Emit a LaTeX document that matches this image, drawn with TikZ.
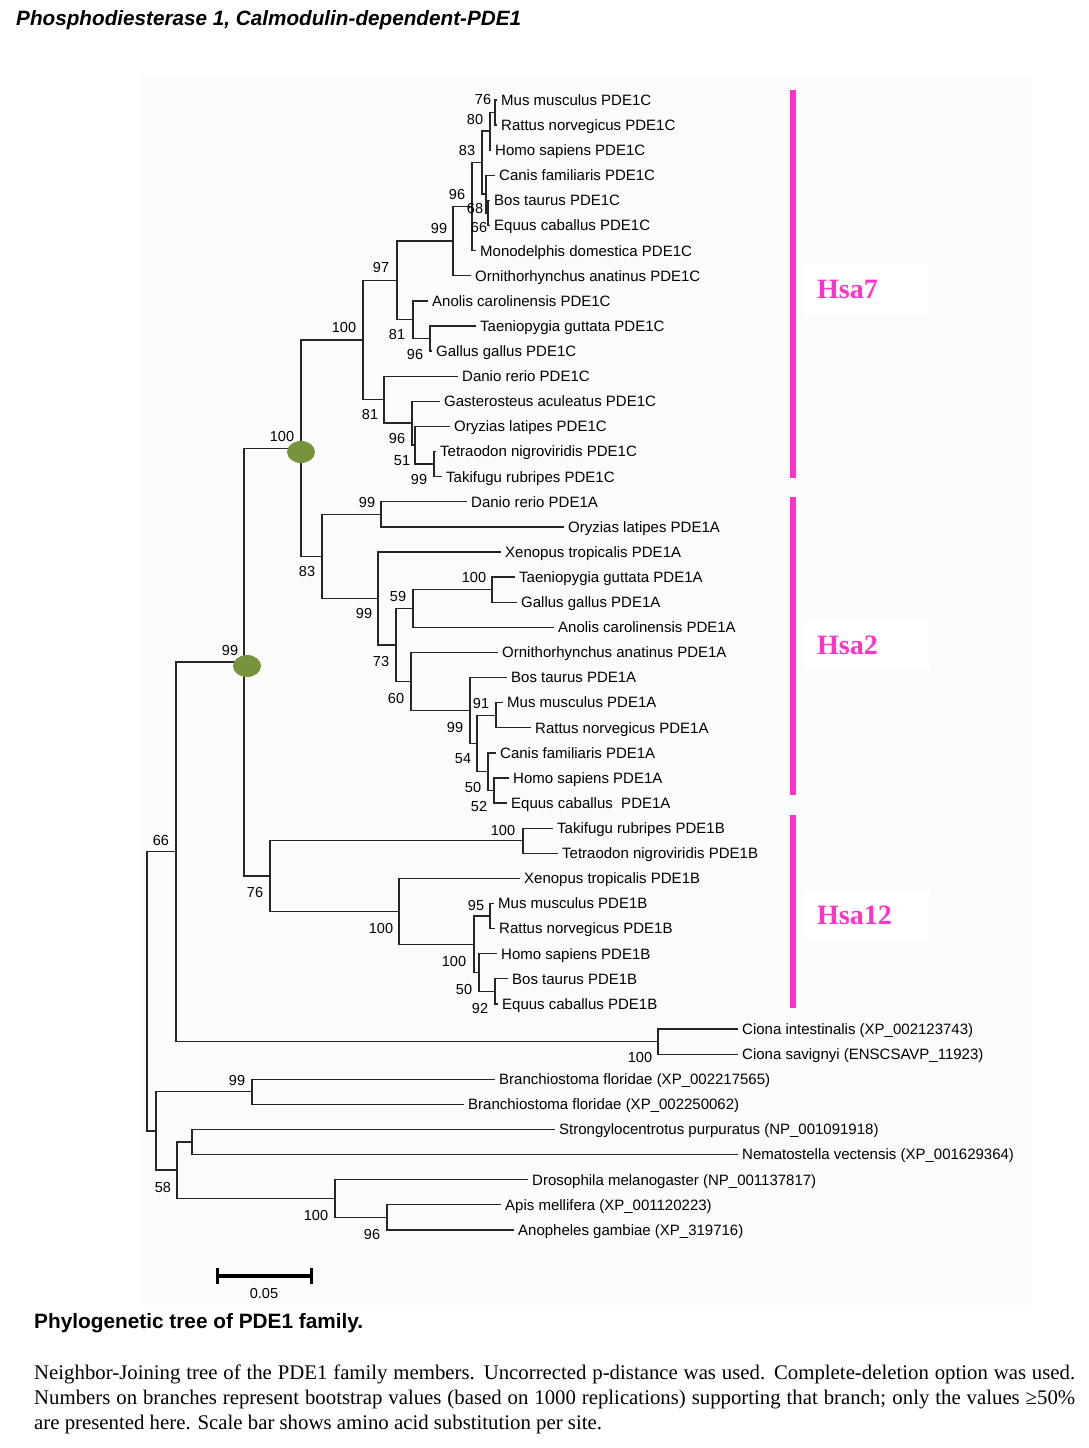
\documentclass[tikz,border=0pt]{standalone}
\usepackage{fontspec}
\setmainfont{Liberation Serif}
\setsansfont{Liberation Sans}
\usepackage{xcolor}
\usetikzlibrary{positioning,calc,shapes.geometric}
\definecolor{hsapink}{RGB}{255,51,204}
\definecolor{nodegreen}{RGB}{119,147,60}
\definecolor{panelgray}{RGB}{251,251,251}

\begin{document}
\begin{tikzpicture}[x=1pt,y=-1pt,
	branch/.style={line width=1.3pt,black!85},
	taxon/.style={anchor=west,inner xsep=4pt,inner ysep=0pt,text height=10.7pt,text depth=0pt,font=\sffamily\fontsize{15}{17}\selectfont},
	boot/.style={inner sep=0pt,font=\sffamily\fontsize{14.5}{16}\selectfont},
	clade/.style={draw=hsapink,line width=6pt},
	cladename/.style={anchor=west,fill=white,text=hsapink,inner xsep=12pt,text width=100pt,minimum height=50pt,align=left,font=\bfseries\fontsize{28}{30}\selectfont},
	dup/.style={ellipse,fill=nodegreen,minimum width=28pt,minimum height=22pt,inner sep=0pt}]
	\useasboundingbox (0,0) rectangle (1088,1448);
	\fill[white] (0,0) rectangle (1088,1448);
	\fill[panelgray] (140,77) rectangle (1032,1305);
	
	\node[anchor=west,inner sep=0pt,font=\sffamily\bfseries\itshape\fontsize{20.7}{24}\selectfont] (title) at (16,20) {Phosphodiesterase 1, Calmodulin-dependent-PDE1};
	
	% PDE1C
	\node[taxon] (mus1c) at (497,100) {Mus musculus PDE1C};
	\node[taxon] (rat1c) at (497,125.1) {Rattus norvegicus PDE1C};
	\node[taxon] (hom1c) at (491,150.2) {Homo sapiens PDE1C};
	\node[taxon] (can1c) at (495,175.3) {Canis familiaris PDE1C};
	\node[taxon] (bos1c) at (490,200.4) {Bos taurus PDE1C};
	\node[taxon] (equ1c) at (490,225.6) {Equus caballus PDE1C};
	\node[taxon] (mon1c) at (476,250.7) {Monodelphis domestica PDE1C};
	\node[taxon] (orn1c) at (471,275.8) {Ornithorhynchus anatinus PDE1C};
	\node[taxon] (ano1c) at (428,300.9) {Anolis carolinensis PDE1C};
	\node[taxon] (tae1c) at (476,326.0) {Taeniopygia guttata PDE1C};
	\node[taxon] (gal1c) at (432,351.1) {Gallus gallus PDE1C};
	\node[taxon] (dan1c) at (458,376.2) {Danio rerio PDE1C};
	\node[taxon] (gas1c) at (440,401.3) {Gasterosteus aculeatus PDE1C};
	\node[taxon] (ory1c) at (450,426.4) {Oryzias latipes PDE1C};
	\node[taxon] (tet1c) at (436,451.5) {Tetraodon nigroviridis PDE1C};
	\node[taxon] (tak1c) at (442,476.7) {Takifugu rubripes PDE1C};
	
	% PDE1A
	\node[taxon] (dan1a) at (467,501.8) {Danio rerio PDE1A};
	\node[taxon] (ory1a) at (564,526.9) {Oryzias latipes PDE1A};
	\node[taxon] (xen1a) at (501,552.0) {Xenopus tropicalis PDE1A};
	\node[taxon] (tae1a) at (515,577.1) {Taeniopygia guttata PDE1A};
	\node[taxon] (gal1a) at (517,602.2) {Gallus gallus PDE1A};
	\node[taxon] (ano1a) at (554,627.3) {Anolis carolinensis PDE1A};
	\node[taxon] (orn1a) at (498,652.4) {Ornithorhynchus anatinus PDE1A};
	\node[taxon] (bos1a) at (507,677.5) {Bos taurus PDE1A};
	\node[taxon] (mus1a) at (503,702.6) {Mus musculus PDE1A};
	\node[taxon] (rat1a) at (531,727.7) {Rattus norvegicus PDE1A};
	\node[taxon] (can1a) at (496,752.9) {Canis familiaris PDE1A};
	\node[taxon] (hom1a) at (509,778.0) {Homo sapiens PDE1A};
	\node[taxon] (equ1a) at (507,803.1) {Equus caballus\ \ PDE1A};
	
	% PDE1B
	\node[taxon] (tak1b) at (553,828.2) {Takifugu rubripes PDE1B};
	\node[taxon] (tet1b) at (558,853.3) {Tetraodon nigroviridis PDE1B};
	\node[taxon] (xen1b) at (520,878.4) {Xenopus tropicalis PDE1B};
	\node[taxon] (mus1b) at (494,903.5) {Mus musculus PDE1B};
	\node[taxon] (rat1b) at (495,928.6) {Rattus norvegicus PDE1B};
	\node[taxon] (hom1b) at (497,953.7) {Homo sapiens PDE1B};
	\node[taxon] (bos1b) at (508,978.8) {Bos taurus PDE1B};
	\node[taxon] (equ1b) at (498,1003.9) {Equus caballus PDE1B};
	
	% outgroups
	\node[taxon] (cioi) at (738,1029.0) {Ciona intestinalis (XP\_002123743)};
	\node[taxon] (cios) at (738,1054.2) {Ciona savignyi (ENSCSAVP\_11923)};
	\node[taxon] (bra1) at (495,1079.3) {Branchiostoma floridae (XP\_002217565)};
	\node[taxon] (bra2) at (464,1104.4) {Branchiostoma floridae (XP\_002250062)};
	\node[taxon] (str) at (555,1129.5) {Strongylocentrotus purpuratus (NP\_001091918)};
	\node[taxon] (nem) at (738,1154.6) {Nematostella vectensis (XP\_001629364)};
	\node[taxon] (dro) at (528,1179.7) {Drosophila melanogaster (NP\_001137817)};
	\node[taxon] (api) at (501,1204.8) {Apis mellifera (XP\_001120223)};
	\node[taxon] (anog) at (514,1229.9) {Anopheles gambiae (XP\_319716)};
	
	\coordinate (nA) at (495,112.5);
	\coordinate (nB) at (490,131);
	\coordinate (nD) at (488,213);
	\coordinate (nE) at (486,194);
	\coordinate (nC) at (482,162.5);
	\coordinate (nF) at (472,206.6);
	\coordinate (nG) at (453,241);
	\coordinate (nJb) at (430,338.5);
	\coordinate (nJ) at (413,319.7);
	\coordinate (nH) at (397,280.4);
	\coordinate (nOc) at (434,464);
	\coordinate (nOb) at (415,445);
	\coordinate (nOa) at (412,423);
	\coordinate (nO) at (384,399.6);
	\coordinate (nI) at (363,340);
	\coordinate (nQa) at (381,514.4);
	\coordinate (nRc) at (492,589.7);
	\coordinate (nRb) at (413,608.5);
	\coordinate (nSe) at (494,790.5);
	\coordinate (nSd) at (488,771.7);
	\coordinate (nSc) at (496,715.2);
	\coordinate (nSb) at (477,743.4);
	\coordinate (nSa) at (470,710.5);
	\coordinate (nS) at (411,681.4);
	\coordinate (nR) at (396,645);
	\coordinate (nQb) at (378,598.5);
	\coordinate (nP) at (322,556.5);
	\coordinate (nK) at (301,448.2);
	\coordinate (nT) at (523,840.7);
	\coordinate (nUe) at (495,991.4);
	\coordinate (nUd) at (479,972.5);
	\coordinate (nUc) at (490,916);
	\coordinate (nUb) at (474,944.3);
	\coordinate (nU) at (399,911.3);
	\coordinate (nV) at (270,876);
	\coordinate (nW) at (244,662);
	\coordinate (nCio) at (658,1041.6);
	\coordinate (nX) at (176,851.8);
	\coordinate (nBr) at (252,1091.8);
	\coordinate (nSN) at (192,1142);
	\coordinate (nAA) at (387,1217.4);
	\coordinate (nDr) at (335,1198.5);
	\coordinate (nN) at (177,1170);
	\coordinate (nM) at (156,1131);
	\coordinate (nRoot) at (147,991);
	
	\draw[branch] (nA) |- (mus1c.west) (nA) |- (rat1c.west)
		(nB) |- (nA) (nB) |- (hom1c.west)
		(nD) |- (bos1c.west) (nD) |- (equ1c.west)
		(nE) |- (can1c.west) (nE) |- (nD)
		(nC) |- (nB) (nC) |- (nE)
		(nF) |- (nC) (nF) |- (mon1c.west)
		(nG) |- (nF) (nG) |- (orn1c.west)
		(nJb) |- (tae1c.west) (nJb) |- (gal1c.west)
		(nJ) |- (ano1c.west) (nJ) |- (nJb)
		(nH) |- (nG) (nH) |- (nJ)
		(nOc) |- (tet1c.west) (nOc) |- (tak1c.west)
		(nOb) |- (ory1c.west) (nOb) |- (nOc)
		(nOa) |- (gas1c.west) (nOa) |- (nOb)
		(nO) |- (dan1c.west) (nO) |- (nOa)
		(nI) |- (nH) (nI) |- (nO);
	\draw[branch] (nQa) |- (dan1a.west) (nQa) |- (ory1a.west)
		(nRc) |- (tae1a.west) (nRc) |- (gal1a.west)
		(nRb) |- (nRc) (nRb) |- (ano1a.west)
		(nSe) |- (hom1a.west) (nSe) |- (equ1a.west)
		(nSd) |- (can1a.west) (nSd) |- (nSe)
		(nSc) |- (mus1a.west) (nSc) |- (rat1a.west)
		(nSb) |- (nSc) (nSb) |- (nSd)
		(nSa) |- (bos1a.west) (nSa) |- (nSb)
		(nS) |- (orn1a.west) (nS) |- (nSa)
		(nR) |- (nRb) (nR) |- (nS)
		(nQb) |- (xen1a.west) (nQb) |- (nR)
		(nP) |- (nQa) (nP) |- (nQb)
		(nK) |- (nI) (nK) |- (nP);
	\draw[branch] (nT) |- (tak1b.west) (nT) |- (tet1b.west)
		(nUe) |- (bos1b.west) (nUe) |- (equ1b.west)
		(nUd) |- (hom1b.west) (nUd) |- (nUe)
		(nUc) |- (mus1b.west) (nUc) |- (rat1b.west)
		(nUb) |- (nUc) (nUb) |- (nUd)
		(nU) |- (xen1b.west) (nU) |- (nUb)
		(nV) |- (nT) (nV) |- (nU)
		(nW) |- (nK) (nW) |- (nV);
	\draw[branch] (nCio) |- (cioi.west) (nCio) |- (cios.west)
		(nX) |- (nW) (nX) |- (nCio)
		(nBr) |- (bra1.west) (nBr) |- (bra2.west)
		(nSN) |- (str.west) (nSN) |- (nem.west)
		(nAA) |- (api.west) (nAA) |- (anog.west)
		(nDr) |- (dro.west) (nDr) |- (nAA)
		(nN) |- (nSN) (nN) |- (nDr)
		(nM) |- (nBr) (nM) |- (nN)
		(nRoot) |- (nX) (nRoot) |- (nM);
	
	\node[dup] (dupK) at (301,452) {};
	\node[dup] (dupW) at (247,666) {};
	
	\node[boot] (bA) at (483,100) {76};
	\node[boot] (bB) at (475,120) {80};
	\node[boot] (bC) at (467,151) {83};
	\node[boot] (bF) at (457,195) {96};
	\node[boot] (bE) at (475,209) {68};
	\node[boot] (bD) at (479,228) {66};
	\node[boot] (bG) at (439,229) {99};
	\node[boot] (bH) at (381,268) {97};
	\node[boot] (bI) at (344,328) {100};
	\node[boot] (bJ) at (397,335) {81};
	\node[boot] (bJb) at (415,355) {96};
	\node[boot] (bO) at (370,415) {81};
	\node[boot] (bOa) at (397,439) {96};
	\node[boot] (bOb) at (402,461) {51};
	\node[boot] (bOc) at (419,480) {99};
	\node[boot] (bK) at (282,437) {100};
	\node[boot] (bQa) at (367,503) {99};
	\node[boot] (bP) at (307,572) {83};
	\node[boot] (bRc) at (474,578) {100};
	\node[boot] (bRb) at (398,597) {59};
	\node[boot] (bQb) at (364,614) {99};
	\node[boot] (bR) at (381,661) {73};
	\node[boot] (bS) at (396,698) {60};
	\node[boot] (bSc) at (481,703) {91};
	\node[boot] (bSa) at (455,727) {99};
	\node[boot] (bSb) at (463,759) {54};
	\node[boot] (bSd) at (473,787) {50};
	\node[boot] (bSe) at (479,806) {52};
	\node[boot] (bW) at (230,651) {99};
	\node[boot] (bT) at (503,830) {100};
	\node[boot] (bX) at (161,840) {66};
	\node[boot] (bV) at (255,892) {76};
	\node[boot] (bUc) at (476,905) {95};
	\node[boot] (bU) at (381,928) {100};
	\node[boot] (bUb) at (454,961) {100};
	\node[boot] (bUd) at (464,989) {50};
	\node[boot] (bUe) at (480,1008) {92};
	\node[boot] (bCio) at (640,1057) {100};
	\node[boot] (bBr) at (237,1080) {99};
	\node[boot] (bN) at (163,1187) {58};
	\node[boot] (bDr) at (316,1215) {100};
	\node[boot] (bAA) at (372,1234) {96};
	
	\coordinate (c7a) at (793,90);
	\coordinate (c7b) at (793,478);
	\coordinate (c2a) at (793,497);
	\coordinate (c2b) at (793,795);
	\coordinate (c12a) at (793,815);
	\coordinate (c12b) at (793,1008);
	\draw[clade] (c7a) -- (c7b);
	\draw[clade] (c2a) -- (c2b);
	\draw[clade] (c12a) -- (c12b);
	\node[cladename] (hsa7) at (805,289) {Hsa7};
	\node[cladename] (hsa2) at (805,645) {Hsa2};
	\node[cladename] (hsa12) at (805,915) {Hsa12};
	
	\coordinate (sba) at (217,1276);
	\coordinate (sbb) at (311,1276);
	\draw[line width=4pt] (sba) -- (sbb);
	\draw[line width=3pt] ([yshift=-8pt]sba) -- ([yshift=8pt]sba) ([yshift=-8pt]sbb) -- ([yshift=8pt]sbb);
	\node[boot] (sbl) at (264,1293) {0.05};
	
	\node[anchor=west,inner sep=0pt,font=\sffamily\bfseries\fontsize{20.8}{24}\selectfont] (figtitle) at (34,1323) {Phylogenetic tree of PDE1 family.};
	\node[anchor=base west,inner sep=0pt,font=\fontsize{20.8}{25}\selectfont] (cap1) at (34,1379) {\makebox[1041pt][s]{Neighbor-Joining tree of the PDE1 family members. Uncorrected p-distance was used. Complete-deletion option was used.}};
	\node[anchor=base west,inner sep=0pt,font=\fontsize{20.8}{25}\selectfont] (cap2) at (34,1404) {\makebox[1041pt][s]{Numbers on branches represent bootstrap values (based on 1000 replications) supporting that branch; only the values ≥50\%}};
	\node[anchor=base west,inner sep=0pt,font=\fontsize{20.8}{25}\selectfont] (cap3) at (34,1429) {are presented here. Scale bar shows amino acid substitution per site.};
\end{tikzpicture}
\end{document}
